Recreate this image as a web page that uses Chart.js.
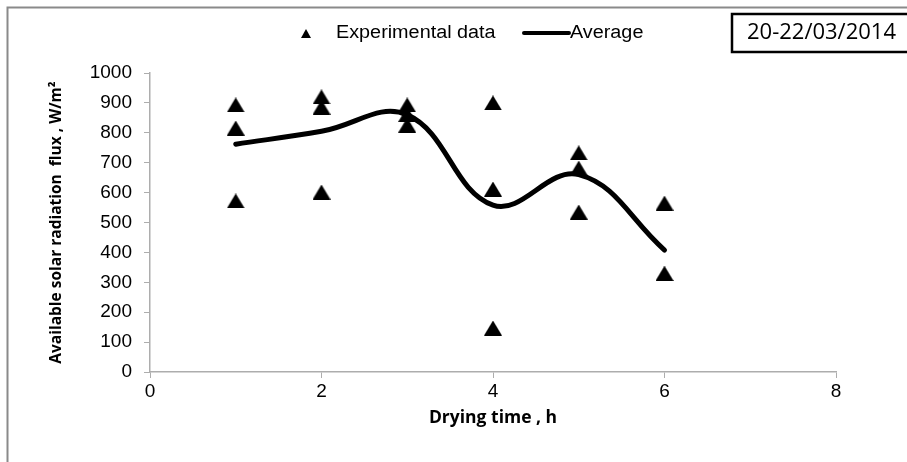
<!DOCTYPE html>
<html>
<head>
<meta charset="utf-8">
<script src="https://cdn.jsdelivr.net/npm/chart.js@4/dist/chart.umd.min.js"></script>
<style>
  html, body { margin: 0; padding: 0; background: #fff; }
  #wrap { position: relative; width: 907px; height: 462px; }
</style>
</head>
<body>
<div id="wrap"><canvas id="myChart" width="907" height="462"></canvas></div>
<script>
// measured values, three readings per hour
var hours = [1, 2, 3, 4, 5, 6];
var run1 = [893, 920, 893, 900, 733, 565];
var run2 = [816, 886, 862, 612, 682, 328];
var run3 = [572, 602, 826, 147, 535, 328];
// hourly average (smoothed line)
var average = [762, 805, 860, 558, 660, 408];

var xTicks = [0, 2, 4, 6, 8];
var dateLabel = '20-22/03/2014';

// scatter points: all three readings for every hour
var expPoints = [];
[run1, run2, run3].forEach(function (run) {
    run.forEach(function (v, i) {
        expPoints.push({ x: hours[i], y: v });
    });
});
var avgPoints = hours.map(function (h, i) { return { x: h, y: average[i] }; });

// triangle marker centred on its bounding box
function makeTriangle(w, h) {
    var c = document.createElement('canvas');
    c.width = w; c.height = h;
    var g = c.getContext('2d');
    g.fillStyle = '#000';
    g.beginPath();
    g.moveTo(w / 2, 0);
    g.lineTo(w, h);
    g.lineTo(0, h);
    g.closePath();
    g.fill();
    return c;
}
var tri = makeTriangle(18, 15);

// text a little wider than the font, like the rest of the sheet
function wideText(c, txt, x, y, sx) {
    c.save();
    c.translate(x, y);
    c.scale(sx, 1);
    c.fillText(txt, 0, 0);
    c.restore();
}

// frame, legend and the date box
const decorations = {
    id: 'decorations',
    beforeDraw(chart) {
        const c = chart.ctx;
        c.save();
        c.fillStyle = '#fff';
        c.fillRect(0, 0, chart.width, chart.height);
        c.restore();
    },
    afterDraw(chart) {
        const c = chart.ctx;
        c.save();
        // outer frame
        c.strokeStyle = '#8a8a8a';
        c.lineWidth = 2;
        c.strokeRect(7.5, 7.5, chart.width + 10, chart.height + 10);

        // legend
        c.fillStyle = '#000';
        c.beginPath();
        c.moveTo(306, 29);
        c.lineTo(311, 38);
        c.lineTo(301, 38);
        c.closePath();
        c.fill();
        c.font = '18px "Liberation Sans", Arial, sans-serif';
        c.textBaseline = 'middle';
        wideText(c, 'Experimental data', 336, 33, 1.1);
        c.strokeStyle = '#000';
        c.lineWidth = 4;
        c.lineCap = 'round';
        c.beginPath();
        c.moveTo(524, 33);
        c.lineTo(569, 33);
        c.stroke();
        wideText(c, 'Average', 570, 33, 1.1);

        // date box
        c.lineWidth = 2.5;
        c.lineCap = 'butt';
        c.strokeRect(732, 14, 190, 38);
        c.font = '22px "Open Sans", sans-serif';
        c.fillText(dateLabel, 747, 33);
        c.restore();
    }
};

var ctx = document.getElementById('myChart').getContext('2d');
var axisGray = '#adadad';
var tickFont = { family: '"Liberation Sans", Arial, sans-serif', size: 19 };

var myChart = new Chart(ctx, {
    type: 'scatter',
    data: {
        datasets: [
            {
                label: 'Average',
                type: 'line',
                data: avgPoints,
                borderColor: '#000',
                borderWidth: 5,
                borderCapStyle: 'round',
                pointRadius: 0,
                tension: 0.4,
                fill: false,
                order: 2
            },
            {
                label: 'Experimental data',
                data: expPoints,
                pointStyle: tri,
                pointRadius: 9,
                backgroundColor: '#000',
                borderColor: '#000',
                order: 1
            }
        ]
    },
    options: {
        responsive: false,
        animation: false,
        layout: { padding: { top: 73, right: 71, left: 0, bottom: 0 } },
        plugins: {
            legend: { display: false },
            tooltip: { enabled: false }
        },
        scales: {
            x: {
                type: 'linear',
                min: 0,
                max: 8,
                afterBuildTicks: function (scale) {
                    scale.ticks = xTicks.map(function (v) { return { value: v }; });
                },
                afterFit: function (scale) { scale.height = 90; },
                grid: { drawOnChartArea: false, drawTicks: true, tickLength: 6, tickColor: axisGray },
                border: { color: axisGray, width: 1.5 },
                ticks: {
                    padding: 2,
                    color: '#000',
                    font: tickFont,
                    callback: function (v) { return String(v); }
                },
                title: {
                    display: true,
                    text: 'Drying time , h',
                    color: '#000',
                    font: { family: '"Open Sans", sans-serif', size: 17.5, weight: 'bold' },
                    padding: { top: 4, bottom: 33 }
                }
            },
            y: {
                min: 0,
                max: 1000,
                afterFit: function (scale) { scale.width = 150; },
                grid: { drawOnChartArea: false, drawTicks: true, tickLength: 6, tickColor: axisGray },
                border: { color: axisGray, width: 1.5 },
                ticks: {
                    stepSize: 100,
                    padding: 12,
                    color: '#000',
                    font: tickFont,
                    callback: function (v) { return String(v); }
                },
                title: {
                    display: true,
                    text: 'Available solar radiation  flux , W/m\u00b2',
                    color: '#000',
                    font: { family: '"Open Sans", sans-serif', size: 15.5, weight: 'bold' },
                    padding: { top: 47, bottom: 0 }
                }
            }
        }
    },
    plugins: [decorations]
});
</script>
</body>
</html>
